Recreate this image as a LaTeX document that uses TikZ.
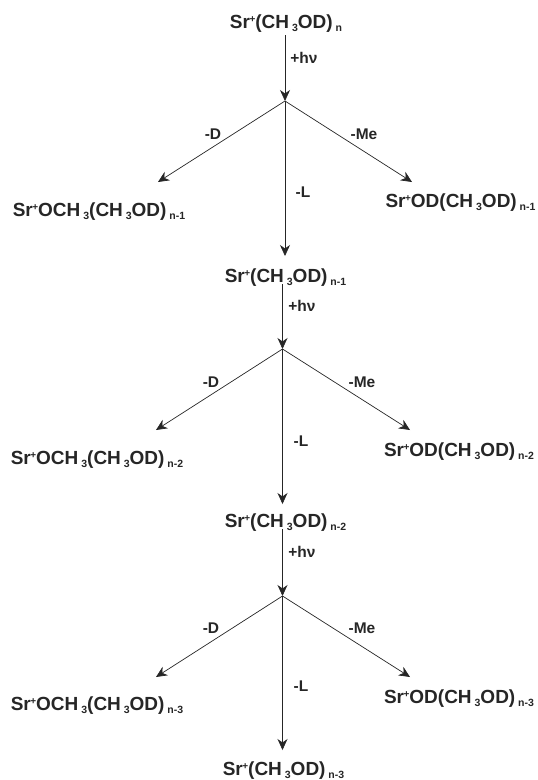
\documentclass[tikz,border=0pt]{standalone}
\usepackage{fontspec}
\setmainfont{Liberation Sans}
\usetikzlibrary{arrows.meta}
\tikzset{
 lab/.style={font=\fontsize{15.5pt}{18pt}\selectfont\bfseries,text=black!85,inner sep=0pt,anchor=center},
 chem/.style={font=\fontsize{19pt}{21pt}\selectfont\bfseries,text=black!85,inner sep=0pt,anchor=base},
 arr/.style={-{Stealth[length=11pt,width=10pt,inset=3.5pt]},line width=0.7pt,black!85}
}
\newcommand{\SrP}{Sr\kern-0.5pt\raisebox{6pt}{\fontsize{10pt}{10pt}\selectfont +}}
\newcommand{\Sb}[1]{\raisebox{-3.5pt}{\fontsize{10.5pt}{11pt}\selectfont #1}}
\begin{document}
\begin{tikzpicture}[x=1pt,y=-1pt]
\useasboundingbox (0,0) rectangle (538,780);
% block 1
\node[chem] (a0) at (286,28) {\SrP(CH\Sb{ 3}OD)\Sb{ n}};
\coordinate (b1) at (285,101);
\node[chem] (d1) at (99,216) {\SrP OCH\Sb{ 3}(CH\Sb{ 3}OD)\Sb{ n-1}};
\node[chem] (m1) at (460.5,207) {\SrP OD(CH\Sb{ 3}OD)\Sb{ n-1}};
\node[chem] (a1) at (285.5,282) {\SrP(CH\Sb{ 3}OD)\Sb{ n-1}};
\draw[arr] (285,35) -- (b1);
\draw[arr] (b1) -- (158,182);
\draw[arr] (b1) -- (412,182);
\draw[arr] (b1) -- (285,256);
\node[lab] (h1) at (304,58) {+hν};
\node[lab] (D1) at (213,134) {-D};
\node[lab] (M1) at (364,134) {-Me};
\node[lab] (L1) at (303,192) {-L};
% block 2
\coordinate (b2) at (282.5,349);
\node[chem] (d2) at (97,464) {\SrP OCH\Sb{ 3}(CH\Sb{ 3}OD)\Sb{ n-2}};
\node[chem] (m2) at (459,456) {\SrP OD(CH\Sb{ 3}OD)\Sb{ n-2}};
\node[chem] (a2) at (285.5,527) {\SrP(CH\Sb{ 3}OD)\Sb{ n-2}};
\draw[arr] (282.5,284) -- (b2);
\draw[arr] (b2) -- (156,430);
\draw[arr] (b2) -- (410,430);
\draw[arr] (b2) -- (282.5,504);
\node[lab] (h2) at (302,306) {+hν};
\node[lab] (D2) at (211,382) {-D};
\node[lab] (M2) at (362,382) {-Me};
\node[lab] (L2) at (301,441) {-L};
% block 3
\coordinate (b3) at (282.5,596);
\node[chem] (d3) at (97,710) {\SrP OCH\Sb{ 3}(CH\Sb{ 3}OD)\Sb{ n-3}};
\node[chem] (m3) at (459,703) {\SrP OD(CH\Sb{ 3}OD)\Sb{ n-3}};
\node[chem] (a3) at (283.5,775) {\SrP(CH\Sb{ 3}OD)\Sb{ n-3}};
\draw[arr] (282.5,529) -- (b3);
\draw[arr] (b3) -- (156,677);
\draw[arr] (b3) -- (410,677);
\draw[arr] (b3) -- (282.5,750);
\node[lab] (h3) at (302,552) {+hν};
\node[lab] (D3) at (211,628) {-D};
\node[lab] (M3) at (362,628) {-Me};
\node[lab] (L3) at (301,686) {-L};
\end{tikzpicture}
\end{document}
